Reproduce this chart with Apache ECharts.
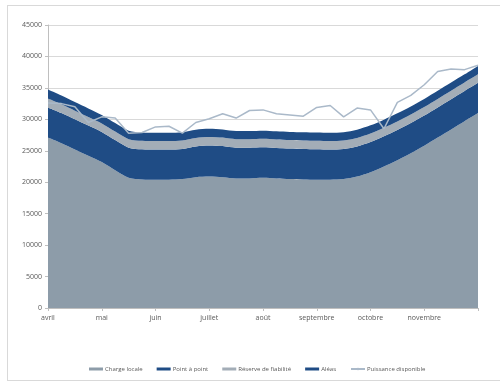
<!DOCTYPE html>
<html>
<head>
<meta charset="utf-8">
<script src="https://cdn.jsdelivr.net/npm/echarts@6/dist/echarts.min.js"></script>
<style>
  html, body { margin: 0; padding: 0; background: #fff; overflow: hidden; }
  #frame { position: absolute; left: 7px; top: 5px; width: 520px; height: 374px; border: 1px solid #d9d9d9; }
  #chart { position: absolute; left: 0; top: 0; width: 500px; height: 381px; }
</style>
</head>
<body>
<div id="frame"></div>
<div id="chart"></div>
<script>
// month labels, one every 4 weekly points
const months = ['avril', 'mai', 'juin', 'juillet', 'août', 'septembre', 'octobre', 'novembre'];
const weeks = Array.from({ length: 33 }, (_, i) => 'S' + (i + 1));

const chargeLocale = [27100, 26200, 25200, 24200, 23200, 21900, 20700, 20450, 20400, 20400, 20500, 20800,
  20900, 20800, 20600, 20600, 20700, 20600, 20500, 20450, 20400, 20400, 20500, 20900,
  21600, 22500, 23500, 24600, 25800, 27100, 28400, 29700, 31000];
const pointAPoint = [4800, 4800, 4800, 4800, 4800, 4800, 4800, 4800, 4800, 4800, 4800, 4900,
  4950, 4950, 4900, 4900, 4850, 4850, 4850, 4850, 4850, 4800, 4800, 4800,
  4800, 4800, 4800, 4800, 4800, 4800, 4800, 4800, 4800];
const reserveFiabilite = [1420, 1400, 1380, 1370, 1350, 1350, 1350, 1350, 1350, 1350, 1350, 1350,
  1350, 1350, 1350, 1350, 1350, 1350, 1350, 1350, 1350, 1350, 1350, 1350,
  1350, 1350, 1350, 1350, 1350, 1350, 1350, 1350, 1350];
const aleas = [1430, 1400, 1380, 1370, 1350, 1350, 1350, 1300, 1300, 1300, 1300, 1300,
  1300, 1300, 1300, 1300, 1300, 1300, 1300, 1300, 1300, 1300, 1300, 1300,
  1300, 1300, 1300, 1300, 1300, 1300, 1300, 1300, 1350];
const puissanceDisponible = [32600, 32500, 32000, 29500, 30400, 30200, 27800, 27900, 28800, 28900, 27800, 29500,
  30100, 30900, 30200, 31400, 31500, 30900, 30700, 30500, 31900, 32200, 30400, 31800,
  31500, 28500, 32700, 33800, 35500, 37600, 38000, 37900, 38600];

const greyArea = '#8d9ca9';
const blueArea = '#1f4c85';
const lightArea = '#a3adb7';
const lineColor = '#aab9c9';

const chart = echarts.init(document.getElementById('chart'));

function area(name, data, color) {
  return {
    name: name,
    type: 'line',
    stack: 'total',
    data: data,
    smooth: 0.3,
    showSymbol: false,
    symbol: 'none',
    lineStyle: { width: 0, color: color },
    itemStyle: { color: color },
    areaStyle: { color: color, opacity: 1 },
    emphasis: { disabled: true },
  };
}

chart.setOption({
  animation: false,
  textStyle: { fontFamily: 'Open Sans' },
  grid: { left: 48, right: 22, top: 25, bottom: 73 },
  legend: {
    bottom: 4,
    left: 84,
    itemWidth: 14,
    itemHeight: 3,
    itemGap: 14,
    textStyle: { fontSize: 6, color: '#595959', padding: [0, 0, 0, -3] },
    data: [
      { name: 'Charge locale', icon: 'rect' },
      { name: 'Point à point', icon: 'rect' },
      { name: 'Réserve de fiabilité', icon: 'rect' },
      { name: 'Aléas', icon: 'rect' },
      { name: 'Puissance disponible' },
    ],
  },
  xAxis: {
    type: 'category',
    data: weeks,
    boundaryGap: false,
    axisLine: { lineStyle: { color: '#bfbfbf' } },
    axisTick: { interval: 3, length: 3, lineStyle: { color: '#bfbfbf' } },
    axisLabel: {
      interval: 3,
      fontSize: 7,
      color: '#595959',
      margin: 6,
      formatter: (v, i) => months[i / 4] || '',
    },
  },
  yAxis: {
    type: 'value',
    min: 0,
    max: 45000,
    interval: 5000,
    axisLine: { show: true, lineStyle: { color: '#bfbfbf' } },
    axisTick: { show: true, length: 3, lineStyle: { color: '#bfbfbf' } },
    axisLabel: { fontSize: 7, color: '#595959', margin: 6, formatter: (v) => String(v) },
    splitLine: { lineStyle: { color: '#d9d9d9' } },
  },
  series: [
    area('Charge locale', chargeLocale, greyArea),
    area('Point à point', pointAPoint, blueArea),
    area('Réserve de fiabilité', reserveFiabilite, lightArea),
    area('Aléas', aleas, blueArea),
    {
      name: 'Puissance disponible',
      type: 'line',
      data: puissanceDisponible,
      symbol: 'none',
      lineStyle: { width: 1.5, color: lineColor },
      itemStyle: { color: lineColor },
      z: 5,
    },
  ],
});
</script>
</body>
</html>
